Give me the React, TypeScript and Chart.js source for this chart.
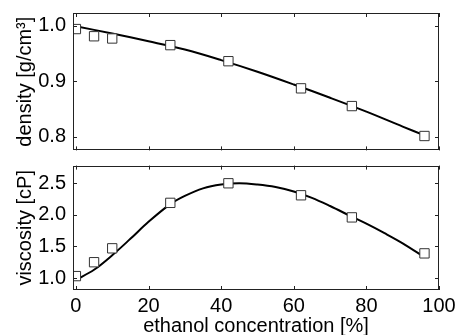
import React, { useEffect, useRef } from "react";
import { Chart, registerables } from "chart.js";

Chart.register(...registerables);

const concentration = [0, 5, 10, 26, 42, 62, 76, 96];
const density = [0.994, 0.981, 0.977, 0.965, 0.936, 0.887, 0.855, 0.801];
const viscosity = [1.03, 1.25, 1.47, 2.19, 2.5, 2.31, 1.96, 1.39];

const densityFitX = [0, 10, 20, 30, 40, 50, 60, 70, 80, 90, 96];
const densityFit = [0.999, 0.986, 0.972, 0.957, 0.938, 0.917, 0.894, 0.87, 0.845, 0.818, 0.802];

const viscosityFitX = [0, 5, 10, 15, 20, 26, 30, 35, 40, 45, 50, 55, 60, 65, 70, 76, 80, 85, 90, 96];
const viscosityFit = [0.97, 1.13, 1.36, 1.62, 1.89, 2.17, 2.3, 2.42, 2.48, 2.5, 2.48, 2.44, 2.37, 2.27, 2.14, 1.97, 1.86, 1.71, 1.55, 1.33];

const xTicks = [0, 20, 40, 60, 80, 100];
const densityTicks = [0.8, 0.9, 1.0];
const viscosityTicks = [1.0, 1.5, 2.0, 2.5];

const FONT = "'Liberation Sans', Arial, sans-serif";
const FS = 20;

const framePlugin = {
  id: "frame",
  afterDatasetsDraw(chart: any) {
    const { ctx, chartArea: a, scales } = chart;
    ctx.save();
    ctx.strokeStyle = "#222";
    ctx.lineWidth = 1;
    ctx.strokeRect(Math.round(a.left) + 0.5, Math.round(a.top) + 0.5, Math.round(a.right - a.left) - 1, Math.round(a.bottom - a.top) - 1);
    ctx.beginPath();
    const xs = scales.x;
    for (const v of xTicks) {
      const px = Math.round(xs.getPixelForValue(v)) + 0.5;
      ctx.moveTo(px, a.bottom);
      ctx.lineTo(px, a.bottom - 4);
      ctx.moveTo(px, a.top);
      ctx.lineTo(px, a.top + 4);
    }
    const ys = scales.y;
    for (const t of ys.ticks) {
      const py = Math.round(ys.getPixelForValue(t.value)) + 0.5;
      ctx.moveTo(a.left, py);
      ctx.lineTo(a.left + 4, py);
      ctx.moveTo(a.right, py);
      ctx.lineTo(a.right - 4, py);
    }
    ctx.stroke();
    ctx.restore();
  },
};

function makeConfig(
  fitX: number[],
  fitY: number[],
  ys: number[],
  yMin: number,
  yMax: number,
  yTicks: number[],
  yTitle: string,
  showX: boolean,
  padTop: number,
  padBottom: number
): any {
  return {
    type: "scatter",
    data: {
      datasets: [
        {
          type: "scatter",
          data: concentration.map((x, i) => ({ x, y: ys[i] })),
          pointStyle: "rect",
          pointRadius: 6.6,
          pointBackgroundColor: "#ffffff",
          pointBorderColor: "#333333",
          pointBorderWidth: 1,
          showLine: false,
          order: 0,
        },
        {
          type: "line",
          data: fitX.map((x, i) => ({ x, y: fitY[i] })),
          borderColor: "#000000",
          borderWidth: 2,
          pointRadius: 0,
          tension: 0.35,
          fill: false,
          order: 1,
        },
      ],
    },
    options: {
      animation: false,
      responsive: false,
      maintainAspectRatio: false,
      layout: { padding: { top: padTop, bottom: padBottom, left: 13, right: 18 } },
      plugins: { legend: { display: false }, tooltip: { enabled: false } },
      scales: {
        x: {
          type: "linear",
          display: showX,
          min: -0.8,
          max: 100,
          afterBuildTicks: (s: any) => {
            s.ticks = xTicks.map((v) => ({ value: v }));
          },
          afterFit: (s: any) => {
            if (showX) s.height = 48;
            s.paddingLeft = 0;
            s.paddingRight = 0;
          },
          grid: { display: false, drawTicks: false },
          border: { display: false },
          ticks: {
            color: "#000",
            padding: 4,
            maxRotation: 0,
            font: { family: FONT, size: FS },
            callback: (v: any) => String(v),
          },
          title: {
            display: showX,
            text: "ethanol concentration [%]",
            color: "#000",
            padding: 0,
            font: { family: FONT, size: FS },
          },
        },
        y: {
          type: "linear",
          min: yMin,
          max: yMax,
          afterBuildTicks: (s: any) => {
            s.ticks = yTicks.map((v) => ({ value: v }));
          },
          afterFit: (s: any) => {
            s.width = 60;
            s.paddingTop = 0;
            s.paddingBottom = 0;
          },
          grid: { display: false, drawTicks: false },
          border: { display: false },
          ticks: {
            color: "#000",
            padding: 7,
            font: { family: FONT, size: FS },
            callback: (v: any) => Number(v).toFixed(1),
          },
          title: {
            display: true,
            text: yTitle,
            color: "#000",
            padding: 0,
            font: { family: FONT, size: FS },
          },
        },
      },
    },
    plugins: [framePlugin],
  };
}

function Panel(props: { config: any; top: number; height: number }) {
  const ref = useRef<HTMLCanvasElement | null>(null);
  useEffect(() => {
    if (!ref.current) return;
    const chart = new Chart(ref.current, props.config);
    return () => chart.destroy();
  }, []);
  return (
    <div style={{ position: "absolute", left: 0, top: props.top, width: 457, height: props.height }}>
      <canvas ref={ref} width={457} height={props.height} style={{ display: "block" }} />
    </div>
  );
}

export default function App() {
  const topConfig = makeConfig(densityFitX, densityFit, density, 0.775, 1.023, densityTicks, "density [g/cm³]", false, 13, 4);
  const bottomConfig = makeConfig(viscosityFitX, viscosityFit, viscosity, 0.81, 2.78, viscosityTicks, "viscosity [cP]", true, 5, 0);
  return (
    <div style={{ position: "fixed", left: 0, top: 0, width: 457, height: 335, background: "#fff", overflow: "hidden" }}>
      <Panel config={topConfig} top={0} height={158} />
      <Panel config={bottomConfig} top={158} height={180} />
    </div>
  );
}
